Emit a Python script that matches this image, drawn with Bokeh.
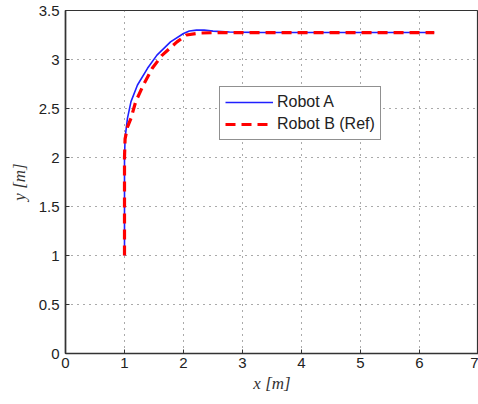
from bokeh.plotting import figure
from bokeh.models import Range1d, Legend, LegendItem, FixedTicker
from bokeh.embed import file_html
from bokeh.resources import INLINE

# Robot A (blue, solid)
xa = [1.0, 1.0, 1.0, 1.01, 1.05, 1.11, 1.22, 1.39, 1.55, 1.78, 2.0, 2.1, 2.22, 2.35, 2.5, 2.78, 3.2, 4.0, 5.0, 6.25]
ya = [1.0, 1.5, 2.0, 2.2, 2.40, 2.57, 2.74, 2.91, 3.045, 3.18, 3.265, 3.29, 3.30, 3.30, 3.29, 3.28, 3.277, 3.275, 3.275, 3.275]
# Robot B (red, dashed, reference)
xb = [1.0, 1.0, 1.0, 1.01, 1.05, 1.11, 1.19, 1.32, 1.47, 1.64, 1.89, 2.05, 2.28, 2.6, 3.5, 5.0, 6.25]
yb = [1.0, 1.5, 2.0, 2.19, 2.31, 2.40, 2.57, 2.74, 2.91, 3.045, 3.18, 3.25, 3.27, 3.275, 3.275, 3.275, 3.275]

xticks = [0, 1, 2, 3, 4, 5, 6, 7]
yticks = [0, 0.5, 1, 1.5, 2, 2.5, 3, 3.5]

p = figure(width=478, height=400, output_backend="svg", toolbar_location=None,
           x_range=Range1d(0, 7), y_range=Range1d(0, 3.5),
           min_border_left=65, min_border_right=0, min_border_top=10, min_border_bottom=47)

p.outline_line_color = "#333333"
p.outline_line_width = 1.2
p.background_fill_color = "white"
p.border_fill_color = "white"

for ax in (p.xaxis, p.yaxis):
    ax.axis_line_color = "#333333"
    ax.axis_line_width = 1.6
    ax.major_tick_in = 4
    ax.major_tick_out = 0
    ax.minor_tick_line_color = None
    ax.major_tick_line_color = "#333333"
    ax.major_label_text_font = "Liberation Sans"
    ax.major_label_text_font_size = "15px"
    ax.major_label_text_color = "#222222"
    ax.axis_label_text_font = "Liberation Serif"
    ax.axis_label_text_font_style = "italic"
    ax.axis_label_text_font_size = "17px"
    ax.axis_label_text_color = "#333333"

p.xaxis.ticker = FixedTicker(ticks=xticks)
p.yaxis.ticker = FixedTicker(ticks=yticks)
p.xaxis.major_label_standoff = 4
p.yaxis.major_label_standoff = 6
p.xaxis.axis_label = "x [m]"
p.yaxis.axis_label = "y [m]"
p.xaxis.axis_label_standoff = 3
p.yaxis.axis_label_standoff = 7

p.xgrid.ticker = FixedTicker(ticks=xticks)
p.ygrid.ticker = FixedTicker(ticks=yticks)
for g in (p.xgrid, p.ygrid):
    g.grid_line_color = "#555555"
    g.grid_line_dash = "1 5"
    g.grid_line_width = 1

ra = p.line(xa, ya, line_color="#2020ff", line_width=1.6)
rb = p.line(xb, yb, line_color="#ff0000", line_width=3.2, line_dash="10 6")

legend = Legend(items=[LegendItem(label="Robot A", renderers=[ra]),
                       LegendItem(label="Robot B (Ref)", renderers=[rb])],
                location=(154, 213))
legend.border_line_color = "#222222"
legend.border_line_width = 1.2
legend.background_fill_alpha = 1.0
legend.label_text_font = "Liberation Sans"
legend.label_text_font_size = "16px"
legend.label_text_color = "#222222"
legend.glyph_width = 48
legend.glyph_height = 20
legend.label_standoff = 4
legend.padding = 5
legend.spacing = 2
legend.margin = 0
legend.label_height = 20
p.add_layout(legend, "center")

open("out.html", "w").write(file_html(p, INLINE))
